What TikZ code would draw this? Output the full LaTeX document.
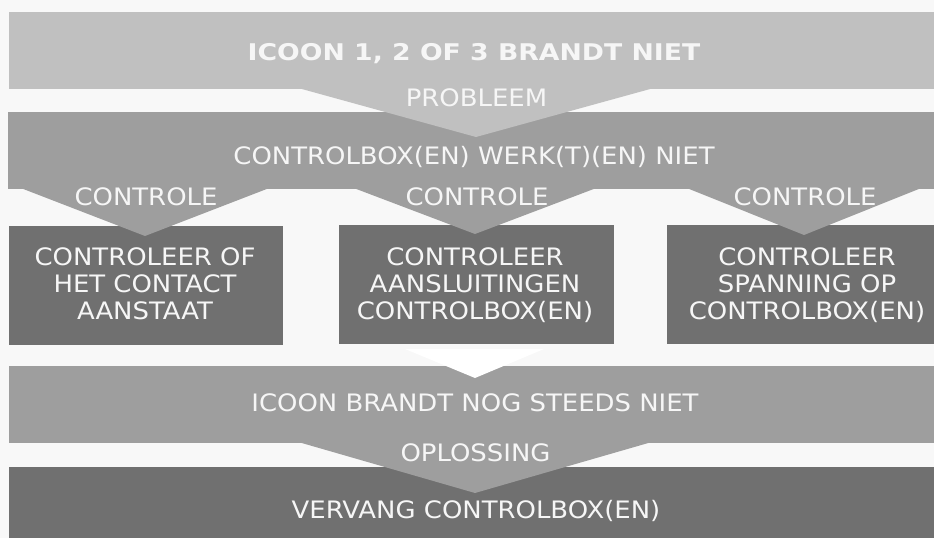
\documentclass[tikz,border=0pt]{standalone}
\usepackage{fontspec}
\setmainfont{DejaVu Sans}[FakeStretch=1.08]
\newfontfamily\titlefont{DejaVu Sans}[FakeStretch=1.16]
\definecolor{bg}{HTML}{F8F8F8}
\definecolor{light}{HTML}{C0C0C0}
\definecolor{mid}{HTML}{9E9E9E}
\definecolor{dark}{HTML}{707070}
\definecolor{txt}{HTML}{F6F6F6}
\tikzset{
  lbl/.style={text=txt, font=\fontsize{24}{27}\selectfont, inner sep=0pt, outer sep=0pt, align=center},
  bar/.style={inner sep=0pt, outer sep=0pt, anchor=north west},
}
\begin{document}
\begin{tikzpicture}[x=1pt,y=-1pt]
\fill[bg] (0,0) rectangle (934,538);
\useasboundingbox (0,0) rectangle (934,538);
% bars and boxes
\node[bar, fill=mid,   minimum width=926pt, minimum height=77pt]  (werk)  at (8,112) {};
\node[bar, fill=light, minimum width=925pt, minimum height=77pt]  (icoon) at (9,12) {};
\node[bar, fill=dark,  minimum width=274pt, minimum height=119pt] (box1)  at (9,226) {};
\node[bar, fill=dark,  minimum width=275pt, minimum height=119pt] (box2)  at (339,225) {};
\node[bar, fill=dark,  minimum width=267pt, minimum height=119pt] (box3)  at (667,225) {};
\node[bar, fill=dark,  minimum width=925pt, minimum height=71pt]  (vervang) at (9,467) {};
\node[bar, fill=mid,   minimum width=925pt, minimum height=77pt]  (nog)   at (9,366) {};
% chevrons
\fill[light] (300,88.5) -- (476,137) -- (652,88.5) -- cycle;
\fill[mid] (22,188.5) -- (145,236) -- (268,188.5) -- cycle;
\fill[mid] (355,188.5) -- (475,234) -- (595,188.5) -- cycle;
\fill[mid] (688,188.5) -- (804,235) -- (920,188.5) -- cycle;
\fill[white] (405,349) -- (475,378) -- (544,349) -- cycle;
\fill[mid] (300,442.5) -- (475,493) -- (650,442.5) -- cycle;
% texts
\node[lbl, anchor=base, font=\titlefont\bfseries\fontsize{23}{27}\selectfont] (t1) at (474,60) {ICOON 1, 2 OF 3 BRANDT NIET};
\node[lbl, anchor=base] (t2) at (476.5,106.5) {PROBLEEM};
\node[lbl, anchor=base] (t3) at (474,164) {CONTROLBOX(EN) WERK(T)(EN) NIET};
\node[lbl, anchor=base] (c1) at (146,205) {CONTROLE};
\node[lbl, anchor=base] (c2) at (477,205) {CONTROLE};
\node[lbl, anchor=base] (c3) at (805,205) {CONTROLE};
\node[lbl] (b1) at (145,284) {CONTROLEER OF\\HET CONTACT\\AANSTAAT};
\node[lbl] (b2) at (475,285) {CONTROLEER\\AANSLUITINGEN\\CONTROLBOX(EN)};
\node[lbl] (b3) at (807,285) {CONTROLEER\\SPANNING OP\\CONTROLBOX(EN)};
\node[lbl, anchor=base] (t4) at (475,411) {ICOON BRANDT NOG STEEDS NIET};
\node[lbl, anchor=base] (t5) at (475.5,461) {OPLOSSING};
\node[lbl, anchor=base] (t6) at (476,518) {VERVANG CONTROLBOX(EN)};
\end{tikzpicture}
\end{document}
